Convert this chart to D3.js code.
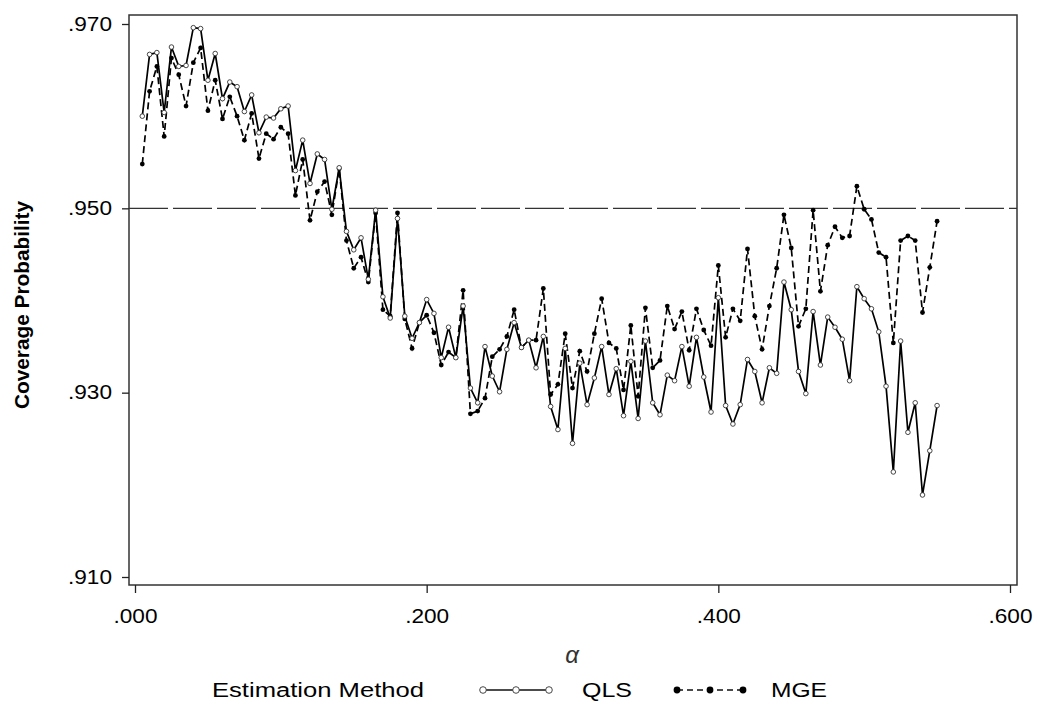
<!DOCTYPE html>
<html>
<head>
<meta charset="utf-8">
<script src="https://cdn.jsdelivr.net/npm/d3@7"></script>
<style>
  body { margin: 0; background: #fff; }
  svg { display: block; font-family: "Liberation Sans", Arial, sans-serif; }
</style>
</head>
<body>
<svg id="chart" width="1038" height="711"></svg>
<script>
// alpha values (x)
const alphas = [
  .005,.010,.015,.020,.025,.030,.035,.040,.045,.050,
  .055,.060,.065,.070,.075,.080,.085,.090,.095,.100,
  .105,.110,.115,.120,.125,.130,.135,.140,.145,.150,
  .155,.160,.165,.170,.175,.180,.185,.190,.195,.200,
  .205,.210,.215,.220,.225,.230,.235,.240,.245,.250,
  .255,.260,.265,.270,.275,.280,.285,.290,.295,.300,
  .305,.310,.315,.320,.325,.330,.335,.340,.345,.350,
  .355,.360,.365,.370,.375,.380,.385,.390,.395,.400,
  .405,.410,.415,.420,.425,.430,.435,.440,.445,.450,
  .455,.460,.465,.470,.475,.480,.485,.490,.495,.500,
  .505,.510,.515,.520,.525,.530,.535,.540,.545,.550
];

const qls = [
  .9600,.9667,.9669,.9604,.9675,.9654,.9655,.9696,.9695,.9639,
  .9668,.9619,.9637,.9632,.9605,.9623,.9582,.9599,.9598,.9608,
  .9611,.9541,.9574,.9527,.9559,.9553,.9499,.9544,.9475,.9455,
  .9468,.9423,.9498,.9404,.9381,.9489,.9383,.9359,.9376,.9401,
  .9386,.9338,.9371,.9338,.9394,.9305,.9289,.9350,.9318,.9301,
  .9347,.9376,.9349,.9357,.9327,.9361,.9285,.9260,.9348,.9245,
  .9332,.9287,.9316,.9350,.9298,.9326,.9275,.9334,.9272,.9356,
  .9289,.9276,.9319,.9313,.9350,.9307,.9360,.9317,.9279,.9403,
  .9286,.9266,.9287,.9336,.9323,.9289,.9327,.9321,.9420,.9390,
  .9323,.9299,.9388,.9330,.9382,.9371,.9358,.9313,.9415,.9402,
  .9391,.9366,.9307,.9214,.9356,.9257,.9289,.9189,.9237,.9286
];

const mge = [
  .9548,.9627,.9654,.9578,.9663,.9645,.9611,.9658,.9674,.9606,
  .9639,.9597,.9621,.9600,.9574,.9603,.9554,.9581,.9575,.9588,
  .9581,.9514,.9553,.9487,.9518,.9529,.9493,.9543,.9465,.9435,
  .9447,.9420,.9495,.9390,.9383,.9495,.9380,.9348,.9376,.9384,
  .9365,.9330,.9344,.9338,.9411,.9277,.9280,.9294,.9339,.9347,
  .9361,.9390,.9349,.9357,.9357,.9413,.9298,.9309,.9364,.9305,
  .9345,.9323,.9364,.9402,.9354,.9348,.9303,.9373,.9296,.9392,
  .9327,.9335,.9394,.9369,.9388,.9346,.9391,.9368,.9351,.9438,
  .9360,.9391,.9378,.9456,.9383,.9347,.9394,.9435,.9493,.9457,
  .9372,.9391,.9498,.9410,.9460,.9480,.9468,.9470,.9524,.9499,
  .9488,.9452,.9447,.9354,.9465,.9470,.9465,.9387,.9436,.9486
];

const xTicks = [0, .2, .4, .6];
const yTicks = [.91, .93, .95, .97];
const refLine = .95;

const svg = d3.select("#chart");
const frame = { left: 129, right: 1017, top: 15, bottom: 585 };

const x = d3.scaleLinear().domain([0, .6]).range([135, 1010]);
const y = d3.scaleLinear().domain([.91, .97]).range([577, 24]);
const fmt = d => d3.format(".3f")(d).replace(/^0/, "");

// frame
svg.append("rect")
  .attr("x", frame.left).attr("y", frame.top)
  .attr("width", frame.right - frame.left)
  .attr("height", frame.bottom - frame.top)
  .attr("fill", "none").attr("stroke", "#333").attr("stroke-width", 1.5);

// axes
const yAxis = svg.append("g")
  .attr("transform", `translate(${frame.left},0)`)
  .call(d3.axisLeft(y).tickValues(yTicks).tickFormat(fmt).tickSize(7).tickPadding(10));
const xAxis = svg.append("g")
  .attr("transform", `translate(0,${frame.bottom})`)
  .call(d3.axisBottom(x).tickValues(xTicks).tickFormat(fmt).tickSize(8).tickPadding(16));

[yAxis, xAxis].forEach(g => {
  g.select(".domain").remove();
  g.selectAll(".tick line").attr("stroke", "#222").attr("stroke-width", 1.3);
  g.selectAll(".tick text")
    .attr("fill", "#000")
    .style("font-size", "19.5px")
    .attr("textLength", 44)
    .attr("lengthAdjust", "spacingAndGlyphs");
});

// reference line at .950
svg.append("line")
  .attr("x1", frame.left).attr("x2", frame.right)
  .attr("y1", y(refLine)).attr("y2", y(refLine))
  .attr("stroke", "#333").attr("stroke-width", 1.3)
  .attr("stroke-dasharray", "39,5");

const line = d3.line().x(d => x(d[0])).y(d => y(d[1]));
const qlsData = alphas.map((a, i) => [a, qls[i]]);
const mgeData = alphas.map((a, i) => [a, mge[i]]);

svg.append("path").datum(mgeData)
  .attr("d", line).attr("fill", "none")
  .attr("stroke", "#000").attr("stroke-width", 1.7)
  .attr("stroke-dasharray", "7,4");

svg.append("path").datum(qlsData)
  .attr("d", line).attr("fill", "none")
  .attr("stroke", "#000").attr("stroke-width", 1.7);

svg.append("g").selectAll("circle").data(mgeData).enter().append("circle")
  .attr("cx", d => x(d[0])).attr("cy", d => y(d[1]))
  .attr("r", 2.4).attr("fill", "#000");

svg.append("g").selectAll("circle").data(qlsData).enter().append("circle")
  .attr("cx", d => x(d[0])).attr("cy", d => y(d[1]))
  .attr("r", 2.3).attr("fill", "#fff").attr("stroke", "#333").attr("stroke-width", 0.9);

// axis titles
svg.append("text")
  .attr("transform", "translate(29,305) rotate(-90)")
  .attr("text-anchor", "middle")
  .style("font-size", "20px").style("font-weight", "bold")
  .attr("fill", "#000")
  .attr("textLength", 208).attr("lengthAdjust", "spacingAndGlyphs")
  .text("Coverage Probability");

svg.append("text")
  .attr("x", 572).attr("y", 663)
  .attr("text-anchor", "middle")
  .style("font-size", "24px").style("font-style", "italic")
  .attr("fill", "#333")
  .text("α");

// legend
const ly = 690;
svg.append("text")
  .attr("x", 212).attr("y", ly + 7)
  .style("font-size", "20px").attr("fill", "#000")
  .attr("textLength", 212).attr("lengthAdjust", "spacingAndGlyphs")
  .text("Estimation Method");

const lq = [483, 516, 549];
svg.append("line").attr("x1", lq[0]).attr("x2", lq[2]).attr("y1", ly).attr("y2", ly)
  .attr("stroke", "#111").attr("stroke-width", 1.4);
svg.append("g").selectAll("circle").data(lq).enter().append("circle")
  .attr("cx", d => d).attr("cy", ly).attr("r", 3.3)
  .attr("fill", "#fff").attr("stroke", "#333").attr("stroke-width", 0.9);
svg.append("text")
  .attr("x", 582).attr("y", ly + 7)
  .style("font-size", "20px").attr("fill", "#000")
  .attr("textLength", 50).attr("lengthAdjust", "spacingAndGlyphs")
  .text("QLS");

const lm = [677, 710, 743];
svg.append("line").attr("x1", lm[0]).attr("x2", lm[2]).attr("y1", ly).attr("y2", ly)
  .attr("stroke", "#111").attr("stroke-width", 1.4).attr("stroke-dasharray", "6,4");
svg.append("g").selectAll("circle").data(lm).enter().append("circle")
  .attr("cx", d => d).attr("cy", ly).attr("r", 3.4).attr("fill", "#000");
svg.append("text")
  .attr("x", 771).attr("y", ly + 7)
  .style("font-size", "20px").attr("fill", "#000")
  .attr("textLength", 56).attr("lengthAdjust", "spacingAndGlyphs")
  .text("MGE");
</script>
</body>
</html>
